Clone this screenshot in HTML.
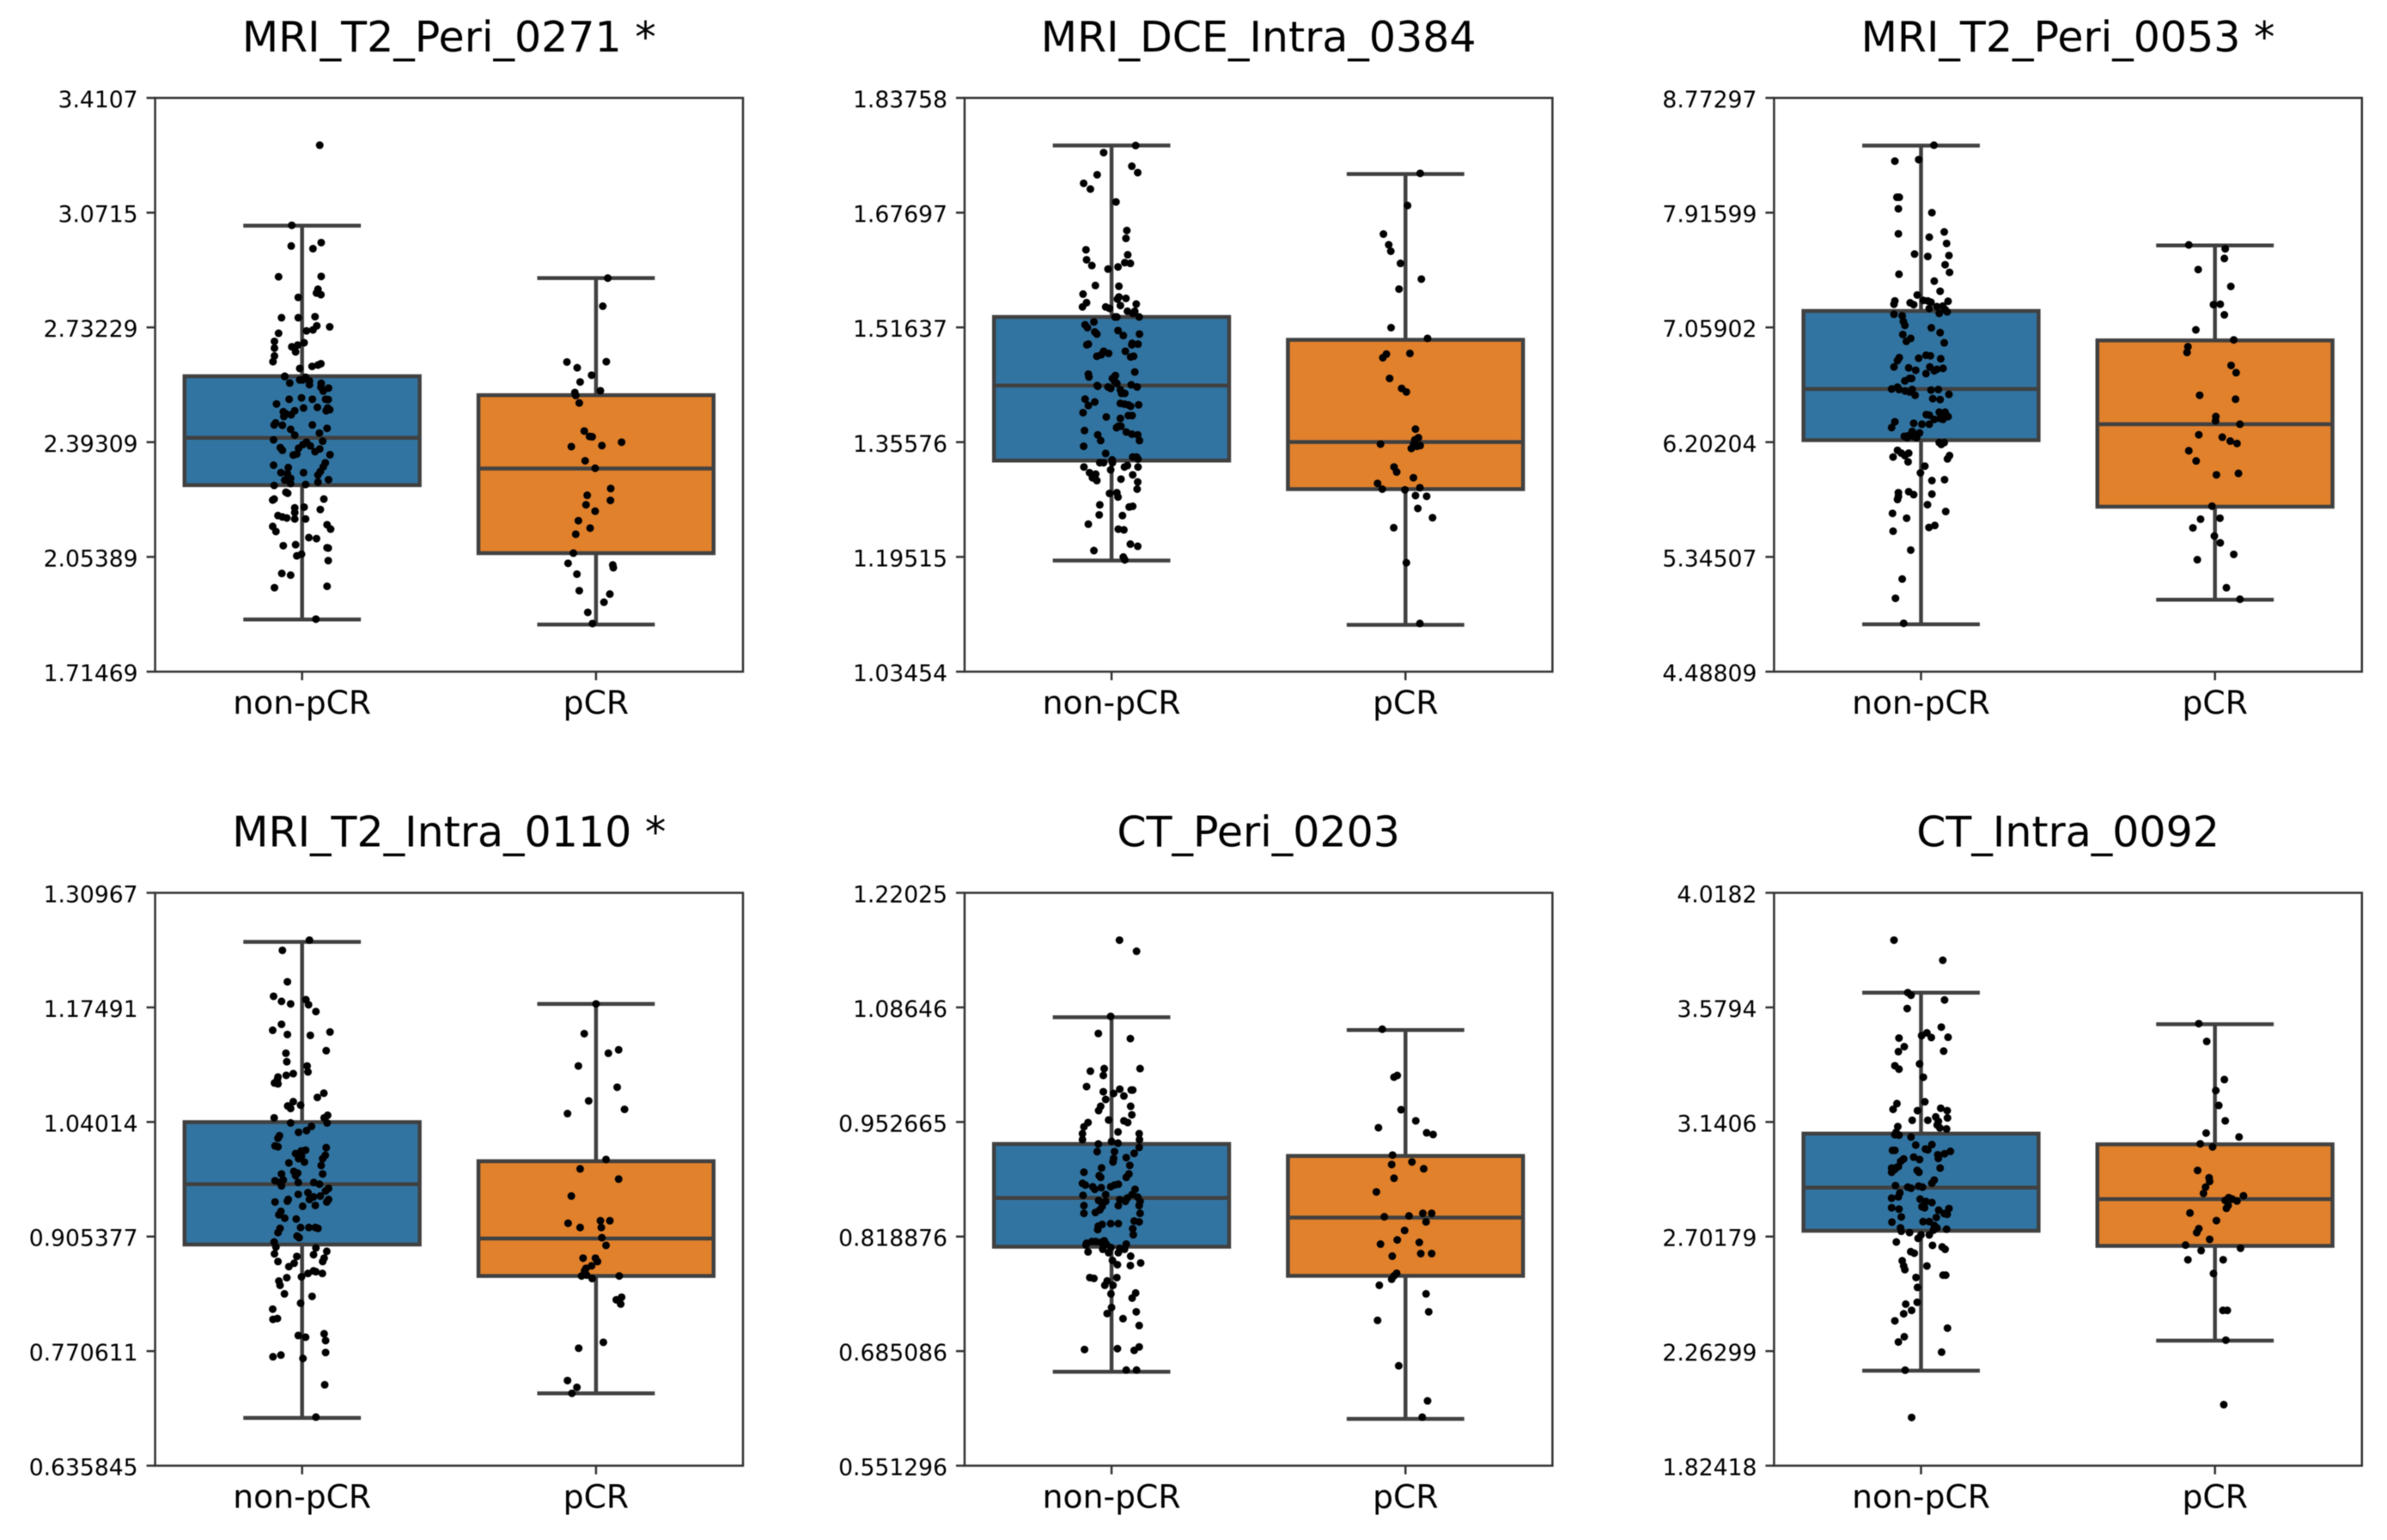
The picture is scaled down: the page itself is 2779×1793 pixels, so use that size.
<!DOCTYPE html>
<html lang="en">
<head>
<meta charset="utf-8">
<title>Radiomic feature boxplots by response</title>
<style>
html,body{margin:0;padding:0;background:#fff;width:2779px;height:1793px;overflow:hidden}
svg{display:block;filter:blur(0.6px)}
text{font-family:"DejaVu Sans","Liberation Sans",sans-serif;fill:#000}
</style>
</head>
<body>
<svg id="chart" xmlns="http://www.w3.org/2000/svg" width="2779" height="1793" viewBox="0 0 2779 1793"></svg>
<script>
const categories = ["non-pCR", "pCR"];
const boxColors = ["#3274a1", "#e1812c"];

/* Box stats order: lower whisker, Q1, median, Q3, upper whisker */
const p1Title = "MRI_T2_Peri_0271 *";
const p1Ticks = ["1.71469","2.05389","2.39309","2.73229","3.0715","3.4107"];
const p1NonBox = [1.869,2.266,2.406,2.588,3.033];
const p1PcrBox = [1.854,2.065,2.315,2.532,2.878];
const p1NonValues = [3.271,3.034,2.973,2.983,2.965,2.882,2.883,2.821,2.845,2.834,2.829,2.761,2.761,2.764,2.715,2.734,2.722,2.725,2.737,2.691,2.671,2.675,2.680,2.687,2.660,2.648,2.631,2.625,2.621,2.617,2.611,2.588,2.585,2.577,2.577,2.574,2.568,2.567,2.587,2.563,2.556,2.553,2.544,2.524,2.520,2.506,2.520,2.520,2.519,2.494,2.494,2.496,2.486,2.486,2.483,2.477,2.474,2.469,2.489,2.444,2.450,2.443,2.444,2.434,2.431,2.420,2.414,2.400,2.396,2.393,2.386,2.377,2.369,2.375,2.382,2.373,2.365,2.356,2.355,2.358,2.325,2.332,2.318,2.320,2.303,2.300,2.303,2.306,2.296,2.286,2.281,2.282,2.275,2.271,2.268,2.265,2.245,2.242,2.225,2.225,2.222,2.199,2.201,2.194,2.185,2.176,2.172,2.169,2.166,2.166,2.149,2.144,2.129,2.136,2.111,2.108,2.087,2.090,2.081,2.080,2.057,2.062,2.043,2.005,2.000,1.963,1.967,1.870];
const p1NonJitter = [.060,-.035,-.037,.065,.037,-.080,.065,-.013,.054,.049,.064,-.070,-.013,.044,-.080,.094,.015,.037,.050,-.094,-.094,-.035,-.015,.007,-.022,-.094,-.099,.064,.054,.034,-.008,-.059,.012,-.008,.002,.025,-.042,.065,-.059,.025,.064,.090,.072,-.002,-.044,-.087,.035,.080,.089,.005,.087,.052,.082,-.025,-.064,-.055,-.037,-.062,.094,.035,-.090,-.067,-.095,.085,-.039,.059,-.025,-.097,.070,.015,.003,-.074,-.067,-.012,.028,.060,.044,.095,-.030,-.018,-.097,.079,-.047,.072,-.072,-.050,.005,.062,.054,-.039,-.059,.090,.054,-.039,.012,-.095,-.055,-.049,.074,-.095,-.100,-.025,.007,.062,-.025,-.082,-.067,-.052,-.025,.012,.085,-.100,-.089,.097,.023,.049,-.064,-.022,.085,.089,-.018,-.002,.089,-.069,-.039,-.094,.085,.047];
const p1PcrValues = [2.878,2.795,2.630,2.631,2.613,2.591,2.571,2.545,2.540,2.531,2.509,2.426,2.410,2.409,2.383,2.393,2.380,2.338,2.316,2.256,2.236,2.221,2.208,2.189,2.161,2.139,2.121,2.065,2.035,2.030,2.022,2.003,1.954,1.944,1.920,1.890,1.857];
const p1PcrJitter = [.040,.023,-.099,.035,-.064,-.015,-.054,.015,-.072,-.069,-.057,-.040,-.022,-.013,.020,.087,-.084,-.037,-.003,.050,-.030,.049,-.034,-.003,-.060,-.020,-.069,-.077,-.095,.057,.059,-.065,-.057,.047,.027,-.028,-.012];

const p2Title = "MRI_DCE_Intra_0384";
const p2Ticks = ["1.03454","1.19515","1.35576","1.51637","1.67697","1.83758"];
const p2NonBox = [1.190,1.330,1.435,1.531,1.771];
const p2PcrBox = [1.100,1.290,1.356,1.499,1.731];
const p2NonValues = [1.771,1.761,1.742,1.730,1.733,1.718,1.710,1.692,1.652,1.641,1.625,1.618,1.611,1.603,1.607,1.606,1.598,1.601,1.575,1.574,1.563,1.559,1.556,1.557,1.551,1.545,1.545,1.543,1.547,1.549,1.539,1.539,1.536,1.531,1.531,1.531,1.524,1.520,1.516,1.512,1.510,1.507,1.507,1.505,1.493,1.492,1.494,1.493,1.492,1.483,1.480,1.483,1.476,1.478,1.475,1.476,1.451,1.447,1.454,1.449,1.445,1.441,1.435,1.434,1.433,1.431,1.438,1.436,1.433,1.429,1.424,1.424,1.416,1.412,1.407,1.410,1.409,1.408,1.406,1.408,1.397,1.391,1.389,1.393,1.393,1.372,1.378,1.378,1.376,1.366,1.370,1.367,1.366,1.358,1.358,1.350,1.340,1.335,1.335,1.332,1.327,1.327,1.331,1.327,1.317,1.323,1.321,1.321,1.321,1.313,1.311,1.305,1.306,1.302,1.304,1.310,1.300,1.290,1.284,1.285,1.279,1.268,1.265,1.266,1.254,1.253,1.241,1.234,1.233,1.213,1.210,1.204,1.195,1.191];
const p2NonJitter = [.082,-.027,.069,-.049,.089,-.095,-.072,.015,.052,.049,-.087,.055,-.085,-.067,.045,.064,-.012,.022,-.055,.025,-.097,.025,.020,.049,-.085,-.099,-.020,-.007,.030,.084,.054,.079,.072,.012,.018,.094,-.060,-.090,-.082,.022,-.057,-.050,.095,.040,-.079,-.084,.070,.090,.069,-.027,-.010,.047,-.050,-.035,.065,.075,-.079,-.077,.079,.013,.003,.010,-.049,-.047,-.012,-.003,.018,.067,.087,.030,.045,.034,-.090,-.057,-.079,.030,.044,.057,.065,.092,-.097,-.018,.030,.057,.070,-.092,.023,.032,.017,-.047,.050,.069,.089,.095,-.037,-.095,-.020,.072,.085,.090,-.040,-.027,.002,.003,-.003,.054,.044,-.094,.090,-.075,-.054,-.057,-.065,-.050,.032,.072,.089,.087,-.007,.018,.022,-.040,.060,.072,-.042,.037,-.079,.023,.042,.064,.089,-.060,.040,.045];
const p2PcrValues = [1.732,1.687,1.647,1.632,1.623,1.606,1.584,1.570,1.516,1.501,1.479,1.480,1.474,1.445,1.431,1.426,1.374,1.362,1.359,1.353,1.353,1.351,1.350,1.347,1.321,1.314,1.306,1.298,1.290,1.289,1.292,1.281,1.280,1.263,1.250,1.236,1.187,1.102];
const p2PcrJitter = [.050,.007,-.075,-.057,-.050,-.017,.054,-.022,-.049,.075,-.065,.015,-.077,-.054,-.013,.003,.034,.044,.032,-.085,.028,.050,.039,.020,-.039,-.030,.027,-.095,-.079,-.002,.049,.034,.072,.042,.092,-.040,.003,.049];

const p3Title = "MRI_T2_Peri_0053 *";
const p3Ticks = ["4.48809","5.34507","6.20204","7.05902","7.91599","8.77297"];
const p3NonBox = [4.842,6.217,6.599,7.182,8.417];
const p3PcrBox = [5.025,5.720,6.336,6.962,7.671];
const p3NonValues = [8.420,8.301,8.312,8.031,8.031,7.945,7.916,7.772,7.758,7.733,7.686,7.607,7.589,7.596,7.527,7.470,7.456,7.405,7.329,7.301,7.257,7.232,7.243,7.229,7.261,7.257,7.247,7.254,7.214,7.218,7.200,7.193,7.175,7.157,7.146,7.164,7.103,7.074,7.056,7.020,7.006,6.977,6.955,6.944,6.851,6.847,6.829,6.825,6.833,6.811,6.764,6.757,6.739,6.764,6.753,6.746,6.735,6.714,6.678,6.678,6.660,6.613,6.599,6.595,6.584,6.595,6.591,6.595,6.559,6.552,6.577,6.527,6.520,6.408,6.404,6.426,6.426,6.401,6.379,6.372,6.393,6.336,6.372,6.336,6.354,6.311,6.343,6.282,6.246,6.250,6.246,6.271,6.235,6.235,6.199,6.199,6.185,6.141,6.120,6.120,6.091,6.102,6.055,6.102,6.077,6.023,5.973,5.915,5.922,5.825,5.832,5.810,5.814,5.796,5.774,5.735,5.684,5.670,5.634,5.580,5.565,5.537,5.396,5.180,5.036,4.849];
const p3NonJitter = [.044,-.089,-.008,-.082,-.074,-.077,.037,.079,-.077,.028,.087,-.022,.023,.095,.082,.097,-.075,.045,.065,-.013,-.089,-.092,-.037,-.025,.008,.023,.034,.092,.054,.074,.028,.082,.089,-.092,-.064,.062,-.060,-.055,.035,.065,-.062,-.035,-.050,.079,.017,.032,-.008,.067,-.074,-.080,-.092,-.042,-.018,.030,.075,.054,.045,.017,-.032,-.039,-.055,-.080,-.100,-.030,-.054,-.075,.034,.059,.095,-.020,-.039,.040,.065,.018,.028,.062,.082,.075,.065,.075,.092,.003,.045,.028,-.089,-.100,-.025,-.030,-.057,-.044,-.027,-.005,-.015,-.047,.062,.079,.069,-.080,-.067,-.042,-.095,-.055,-.044,.097,.090,.013,-.002,.037,.080,-.077,-.042,-.025,.037,-.077,-.080,.022,.084,-.097,-.049,.047,.027,-.095,-.035,-.064,-.087,-.059];
const p3PcrValues = [7.675,7.646,7.574,7.491,7.365,7.229,7.232,7.153,7.041,6.966,6.915,6.872,6.775,6.721,6.552,6.523,6.393,6.361,6.336,6.257,6.239,6.210,6.192,6.138,6.062,5.969,5.958,5.724,5.627,5.634,5.562,5.501,5.450,5.364,5.324,5.115,5.029];
const p3PcrJitter = [-.089,.035,.032,-.057,.054,-.005,.018,.032,-.065,.064,-.092,-.095,.055,.072,-.052,.070,.003,.002,.085,-.055,.025,.052,.075,-.089,-.064,.080,.005,-.010,-.049,.017,-.075,-.002,.018,.064,-.060,.039,.085];

const p4Title = "MRI_T2_Intra_0110 *";
const p4Ticks = ["0.635845","0.770611","0.905377","1.04014","1.17491","1.30967"];
const p4NonBox = [.692,.896,.967,1.040,1.252];
const p4PcrBox = [.721,.859,.903,.994,1.179];
const p4NonValues = [1.254,1.242,1.205,1.188,1.182,1.179,1.184,1.178,1.170,1.155,1.148,1.143,1.146,1.142,1.124,1.121,1.111,1.106,1.099,1.095,1.097,1.093,1.090,1.086,1.085,1.074,1.069,1.064,1.060,1.059,1.056,1.045,1.039,1.048,1.045,1.039,1.035,1.028,1.030,1.024,1.021,1.012,1.011,1.010,1.007,1.006,1.003,1.000,1.001,.997,.997,.992,.993,.989,.979,.982,.980,.979,.977,.971,.969,.972,.969,.969,.967,.962,.965,.959,.957,.955,.953,.952,.949,.949,.947,.946,.949,.946,.942,.941,.935,.931,.927,.926,.916,.916,.916,.915,.915,.910,.906,.904,.899,.893,.892,.888,.885,.884,.882,.880,.876,.876,.874,.870,.865,.862,.864,.862,.858,.857,.853,.848,.838,.835,.827,.820,.809,.808,.789,.787,.791,.783,.769,.766,.764,.762,.731,.693];
const p4NonJitter = [.025,-.067,-.050,-.097,-.070,-.039,.013,.022,.047,-.070,-.100,-.050,.095,.028,.082,-.055,-.052,.017,.020,-.054,-.030,-.082,-.084,-.094,-.082,.074,.052,-.030,-.005,-.049,-.039,-.095,-.039,.087,.075,.085,.032,-.012,.015,-.077,-.082,-.092,-.082,.082,.012,-.003,-.022,-.002,.079,.070,-.012,-.045,.008,.065,-.070,-.028,-.015,.070,-.022,-.092,-.075,-.064,-.013,.040,.059,.090,-.070,.080,.020,-.013,.062,.039,.025,-.047,-.050,-.092,.090,.084,.045,.002,-.072,-.079,-.059,-.020,-.005,.023,.045,.054,-.075,-.082,-.017,-.010,-.095,-.089,.047,.084,-.094,.039,-.018,.075,.070,-.082,-.027,-.045,.039,.020,.047,.069,-.002,-.052,-.079,-.075,-.060,.034,-.005,-.100,-.084,-.099,-.013,.012,.075,.080,.080,-.072,-.099,.003,.077,.047];
const p4PcrValues = [1.179,1.144,1.121,1.125,1.106,1.081,1.065,1.055,1.050,.996,.985,.973,.953,.921,.916,.924,.924,.916,.904,.895,.880,.880,.876,.871,.868,.865,.859,.860,.856,.859,.834,.831,.826,.781,.774,.736,.728,.721];
const p4PcrJitter = [0,-.040,.042,.077,-.060,.072,-.025,.097,-.097,.034,-.054,.077,-.084,-.095,-.054,.015,.047,.018,.020,.034,-.044,-.002,.005,-.015,-.034,-.039,-.049,-.032,-.013,.079,.087,.069,.084,.025,-.059,-.097,-.065,-.082];

const p5Title = "CT_Peri_0203";
const p5Ticks = ["0.551296","0.685086","0.818876","0.952665","1.08646","1.22025"];
const p5NonBox = [.661,.807,.864,.927,1.075];
const p5PcrBox = [.606,.773,.841,.913,1.060];
const p5NonValues = [1.165,1.152,1.076,1.056,1.050,1.015,1.012,1.015,1.007,.994,.991,.988,.990,.990,.986,.983,.979,.971,.971,.966,.961,.955,.954,.952,.952,.947,.941,.939,.939,.932,.932,.930,.928,.927,.923,.918,.918,.916,.910,.911,.906,.894,.902,.899,.890,.892,.888,.888,.880,.879,.877,.881,.879,.877,.876,.874,.874,.868,.868,.867,.865,.864,.862,.860,.861,.860,.860,.855,.854,.855,.855,.850,.847,.846,.846,.836,.837,.834,.834,.833,.831,.828,.827,.821,.811,.813,.813,.814,.809,.812,.810,.810,.806,.804,.805,.804,.801,.800,.800,.796,.791,.788,.786,.785,.771,.770,.771,.767,.762,.762,.753,.752,.747,.736,.729,.731,.723,.715,.687,.688,.686,.690,.663,.663];
const p5NonJitter = [.027,.085,-.003,-.045,.064,.097,-.072,-.025,-.028,-.085,.028,-.028,.067,.072,.007,.042,-.020,.065,-.037,-.044,.069,-.010,.042,.055,-.080,-.094,.022,-.099,.094,-.099,.095,0,.022,-.045,.094,.010,-.049,.077,.007,.050,.005,-.094,.062,-.034,-.042,.059,.050,-.037,.023,.010,-.003,-.099,-.089,-.064,-.035,-.057,.080,-.020,.070,-.097,.089,.054,.028,.047,-.044,-.020,.097,-.094,-.032,.094,.023,-.040,-.055,-.094,.097,.094,.077,-.003,.023,-.032,-.045,.072,-.047,.074,-.085,-.067,-.054,-.025,-.087,-.037,-.018,.050,-.002,-.030,.028,.044,-.080,.023,-.010,.065,.003,.099,.020,.064,-.074,-.060,.018,-.015,-.023,.005,.082,-.002,.070,0,-.015,.084,.039,.094,-.092,.020,.077,.094,.050,.085];
const p5PcrValues = [1.061,1.005,1.007,.967,.954,.946,.940,.938,.914,.906,.903,.898,.887,.871,.842,.843,.846,.846,.836,.826,.815,.810,.812,.796,.799,.799,.776,.773,.769,.762,.752,.731,.721,.668,.627,.608];
const p5PcrJitter = [-.079,-.039,-.028,-.015,.035,-.092,.072,.094,-.044,.022,-.047,.062,-.039,-.099,-.072,.012,.059,.089,.070,-.003,-.028,-.085,.047,-.045,.052,.089,-.030,-.039,-.047,-.089,.070,.079,-.095,-.023,.075,.057];

const p6Title = "CT_Intra_0092";
const p6Ticks = ["1.82418","2.26299","2.70179","3.1406","3.5794","4.0182"];
const p6NonBox = [2.188,2.724,2.889,3.096,3.636];
const p6PcrBox = [2.303,2.666,2.845,3.055,3.515];
const p6NonValues = [3.837,3.760,3.636,3.626,3.608,3.575,3.504,3.482,3.471,3.464,3.465,3.462,3.429,3.410,3.412,3.363,3.356,3.343,3.312,3.218,3.211,3.189,3.184,3.193,3.184,3.160,3.156,3.123,3.147,3.147,3.143,3.129,3.118,3.114,3.101,3.090,3.092,3.083,3.052,3.054,3.037,3.034,3.032,3.032,3.028,3.019,3.015,3.001,3.006,2.997,2.999,2.990,2.970,2.966,2.964,2.959,2.948,2.955,2.948,2.964,2.918,2.906,2.897,2.891,2.887,2.895,2.891,2.869,2.854,2.849,2.845,2.836,2.832,2.812,2.807,2.816,2.812,2.809,2.803,2.790,2.787,2.777,2.757,2.759,2.759,2.775,2.744,2.735,2.735,2.722,2.717,2.708,2.708,2.726,2.730,2.695,2.681,2.668,2.662,2.653,2.644,2.638,2.609,2.589,2.575,2.589,2.545,2.554,2.554,2.507,2.450,2.443,2.419,2.406,2.379,2.351,2.318,2.298,2.259,2.190,2.009];
const p6NonJitter = [-.092,.074,-.045,-.034,.080,-.047,.069,.020,.002,.035,.092,-.075,-.057,-.077,.077,-.005,-.089,-.075,.008,.013,-.082,-.095,-.012,.067,.089,.050,.090,-.079,-.030,.023,.059,.055,.064,.087,-.085,-.075,-.089,-.034,-.018,.037,.015,.023,-.089,-.097,.100,.080,.057,.059,-.025,-.005,-.059,-.069,-.077,-.084,-.100,-.089,-.100,-.013,-.007,.065,.045,.037,-.087,-.045,-.034,-.008,.005,-.072,-.077,-.100,-.003,.017,.037,-.100,-.075,.003,.012,.095,.060,.079,.089,-.067,-.099,.007,.028,.052,.045,.054,-.070,-.067,-.039,0,.028,.042,.087,-.010,-.084,.039,.072,.082,-.035,-.023,-.064,-.059,-.055,.020,-.017,.075,.084,-.012,-.013,-.052,-.032,-.059,-.089,.090,-.057,-.077,.070,-.054,-.032];
const p6PcrValues = [3.517,3.449,3.303,3.261,3.204,3.145,3.098,3.083,3.057,3.045,2.955,2.927,2.913,2.891,2.867,2.858,2.851,2.840,2.845,2.838,2.821,2.810,2.792,2.763,2.732,2.717,2.691,2.669,2.657,2.648,2.613,2.613,2.560,2.419,2.419,2.305,2.058];
const p6PcrJitter = [-.055,-.028,.032,.003,.013,.035,-.030,.082,-.050,-.008,-.059,-.020,-.018,-.032,-.039,.097,.047,.035,.059,.075,.045,.039,-.085,.005,-.055,-.062,-.018,-.100,.087,-.047,-.092,.028,-.005,.027,.042,.037,.030];

const panels = [
  {title:p1Title,ticks:p1Ticks,boxes:[p1NonBox,p1PcrBox],values:[p1NonValues,p1PcrValues],jitter:[p1NonJitter,p1PcrJitter]},
  {title:p2Title,ticks:p2Ticks,boxes:[p2NonBox,p2PcrBox],values:[p2NonValues,p2PcrValues],jitter:[p2NonJitter,p2PcrJitter]},
  {title:p3Title,ticks:p3Ticks,boxes:[p3NonBox,p3PcrBox],values:[p3NonValues,p3PcrValues],jitter:[p3NonJitter,p3PcrJitter]},
  {title:p4Title,ticks:p4Ticks,boxes:[p4NonBox,p4PcrBox],values:[p4NonValues,p4PcrValues],jitter:[p4NonJitter,p4PcrJitter]},
  {title:p5Title,ticks:p5Ticks,boxes:[p5NonBox,p5PcrBox],values:[p5NonValues,p5PcrValues],jitter:[p5NonJitter,p5PcrJitter]},
  {title:p6Title,ticks:p6Ticks,boxes:[p6NonBox,p6PcrBox],values:[p6NonValues,p6PcrValues],jitter:[p6NonJitter,p6PcrJitter]}
];

const svg = document.getElementById('chart');
const NS = 'http://www.w3.org/2000/svg';
const LINE = '#404040';
const SPINE = '#333333';

function make(tag, attrs, parent, text) {
  const node = document.createElementNS(NS, tag);
  for (const k in attrs) node.setAttribute(k, attrs[k]);
  if (text !== undefined) node.textContent = text;
  parent.appendChild(node);
  return node;
}

panels.forEach(function (panel, idx) {
  const col = idx % 3;
  const row = Math.floor(idx / 3);
  const left = 180.6 + col * 942.4;
  const width = 684.4;
  const top = row === 0 ? 114 : 1039.5;
  const height = row === 0 ? 668 : 667;
  const bottom = top + height;

  const domainMin = parseFloat(panel.ticks[0]);
  const domainMax = parseFloat(panel.ticks[panel.ticks.length - 1]);
  const yScale = function (v) { return bottom - (v - domainMin) / (domainMax - domainMin) * height; };
  const xScale = function (c) { return left + (c + 0.5) / 2 * width; };

  const group = make('g', {}, svg);
  
  

  const title = make('text', {x: left + width / 2, y: top - 54, 'text-anchor': 'middle', 'font-size': 49}, group, panel.title);
  
  

  categories.forEach(function (name, c) {
    const stats = panel.boxes[c];
    const lo = yScale(stats[0]), q1 = yScale(stats[1]), med = yScale(stats[2]), q3 = yScale(stats[3]), hi = yScale(stats[4]);
    const cx = xScale(c), bl = xScale(c - 0.4), br = xScale(c + 0.4), cl = xScale(c - 0.2), cr = xScale(c + 0.2);
    const style = {stroke: LINE, 'stroke-width': 4.5, fill: 'none'};

    const whiskerUp = make('line', Object.assign({x1: cx, x2: cx, y1: q3, y2: hi}, style), group);
    
    
    const whiskerDown = make('line', Object.assign({x1: cx, x2: cx, y1: q1, y2: lo}, style), group);
    
    
    const capUp = make('line', Object.assign({x1: cl, x2: cr, y1: hi, y2: hi}, style), group);
    
    
    const capDown = make('line', Object.assign({x1: cl, x2: cr, y1: lo, y2: lo}, style), group);
    
    

    const box = make('rect', {x: bl, y: q3, width: br - bl, height: q1 - q3, fill: boxColors[c], stroke: LINE, 'stroke-width': 4.5}, group);
    
    
    const medianLine = make('line', Object.assign({x1: bl, x2: br, y1: med, y2: med}, style), group);
    
    
  });

  categories.forEach(function (name, c) {
    panel.values[c].forEach(function (v, i) {
      const jitter = panel.jitter[c][i] || 0;
      const dot = make('circle', {cx: xScale(c + jitter), cy: yScale(v), r: 4.5, fill: '#000'}, group);
      
      
    });
  });

  const frame = make('rect', {x: left, y: top, width: width, height: height, fill: 'none', stroke: SPINE, 'stroke-width': 2.5}, group);
  
  

  panel.ticks.forEach(function (label) {
    const ty = yScale(parseFloat(label));
    const tick = make('line', {x1: left - 10, x2: left, y1: ty, y2: ty, stroke: SPINE, 'stroke-width': 2.5}, group);
    
    
    const tickText = make('text', {x: left - 20, y: ty + 11, 'text-anchor': 'end', 'font-size': 26.6}, group, label);
    
    
  });

  categories.forEach(function (name, c) {
    const tx = xScale(c);
    const tick = make('line', {x1: tx, x2: tx, y1: bottom, y2: bottom + 10, stroke: SPINE, 'stroke-width': 2.5}, group);
    
    
    const tickText = make('text', {x: tx, y: bottom + 49, 'text-anchor': 'middle', 'font-size': 37.7}, group, name);
    
    
  });
});
</script>
</body>
</html>
